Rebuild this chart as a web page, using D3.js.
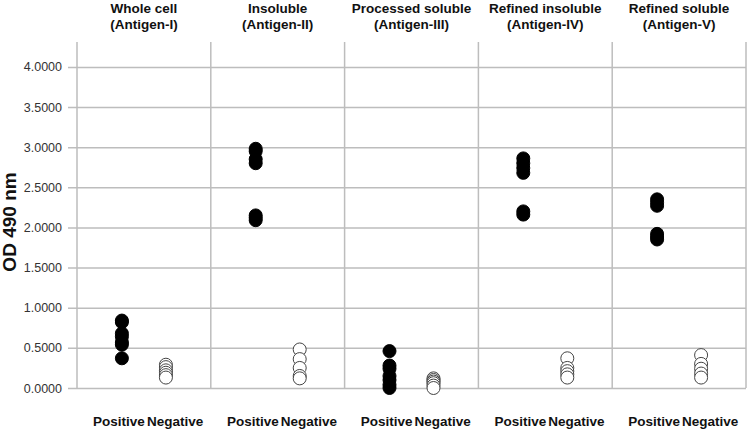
<!DOCTYPE html>
<html><head><meta charset="utf-8">
<script src="https://cdn.jsdelivr.net/npm/d3@7"></script>
<style>body{margin:0;background:#fff;}svg{display:block;font-family:"Liberation Sans",Arial,sans-serif;}</style>
</head><body>
<svg id="c" width="750" height="430"></svg>
<script>
const antigens = ["Whole cell|(Antigen-I)", "Insoluble|(Antigen-II)", "Processed soluble|(Antigen-III)", "Refined insoluble|(Antigen-IV)", "Refined soluble|(Antigen-V)"];
const groups = ["Positive", "Negative"];
const positiveValues = [
  [0.84, 0.82, 0.68, 0.64, 0.57, 0.54, 0.37],
  [2.98, 2.95, 2.85, 2.80, 2.15, 2.12, 2.09],
  [0.46, 0.28, 0.24, 0.15, 0.10, 0.04, 0.00],
  [2.86, 2.80, 2.74, 2.68, 2.20, 2.16],
  [2.35, 2.31, 2.27, 1.92, 1.88, 1.85]
];
const negativeValues = [
  [0.29, 0.26, 0.22, 0.19, 0.16, 0.13],
  [0.48, 0.36, 0.25, 0.15, 0.12],
  [0.12, 0.10, 0.08, 0.06, 0.03, 0.00],
  [0.37, 0.25, 0.21, 0.17, 0.13],
  [0.41, 0.30, 0.24, 0.18, 0.13]
];
const yTicks = [0, 0.5, 1, 1.5, 2, 2.5, 3, 3.5, 4];
const yMax = 4.31;

const svg = d3.select("#c");
const L = 77, R = 746, T = 42, B = 388;
const x = d3.scaleBand().domain(antigens).range([L, R]);
const xi = d3.scalePoint().domain(groups).range([0, x.bandwidth()]).padding(1.02);
const y = d3.scaleLinear().domain([0, yMax]).range([B, T]);
const grid = "#bdbdbd";

// horizontal grid + ticks
const yAxis = d3.axisLeft(y).tickValues(yTicks).tickFormat(d3.format(".4f")).tickSize(L - 68 + (R - L)).tickPadding(6);
const ga = svg.append("g").attr("transform", `translate(${R},0)`).call(yAxis);
ga.select(".domain").remove();
ga.selectAll(".tick line").attr("stroke", grid).attr("stroke-width", 1.5);
ga.selectAll(".tick text").attr("font-size", 12.5).attr("fill", "#333").attr("x", -(R - 62)).attr("text-anchor", "end");

// panel vertical lines
const bounds = antigens.map(a => x(a)).concat([R]);
svg.append("g").selectAll("line").data(bounds).join("line")
  .attr("x1", d => d).attr("x2", d => d).attr("y1", T).attr("y2", B)
  .attr("stroke", grid).attr("stroke-width", 1.5);

// titles
const tg = svg.append("g");
antigens.forEach(a => {
  const parts = a.split("|");
  const cx = x(a) + x.bandwidth() / 2;
  parts.forEach((p, i) => {
    tg.append("text").attr("x", cx).attr("y", 13 + i * 16).attr("text-anchor", "middle")
      .attr("font-size", 13.5).attr("font-weight", "bold").attr("fill", "#111").text(p);
  });
  // bottom labels
  tg.append("text").attr("x", cx + 1).attr("y", 426).attr("text-anchor", "end")
    .attr("font-size", 13.5).attr("font-weight", "bold").attr("fill", "#111").text(groups[0]);
  tg.append("text").attr("x", cx + 3).attr("y", 426).attr("text-anchor", "start")
    .attr("font-size", 13.5).attr("font-weight", "bold").attr("fill", "#111").text(groups[1]);
});

// points
const pts = [];
antigens.forEach((a, i) => {
  positiveValues[i].forEach(v => pts.push({a, g: groups[0], v}));
  negativeValues[i].forEach(v => pts.push({a, g: groups[1], v}));
});
svg.append("g").selectAll("circle").data(pts).join("circle")
  .attr("cx", d => x(d.a) + xi(d.g))
  .attr("cy", d => y(d.v))
  .attr("r", 6.5)
  .attr("fill", d => d.g === "Positive" ? "#000" : "#fff")
  .attr("stroke", d => d.g === "Positive" ? "#000" : "#444")
  .attr("stroke-width", 1);

// y label
svg.append("text").attr("transform", `translate(16,${222}) rotate(-90)`)
  .attr("text-anchor", "middle").attr("font-size", 19).attr("font-weight", "bold").attr("fill", "#111")
  .text("OD 490 nm");
</script>
</body></html>
